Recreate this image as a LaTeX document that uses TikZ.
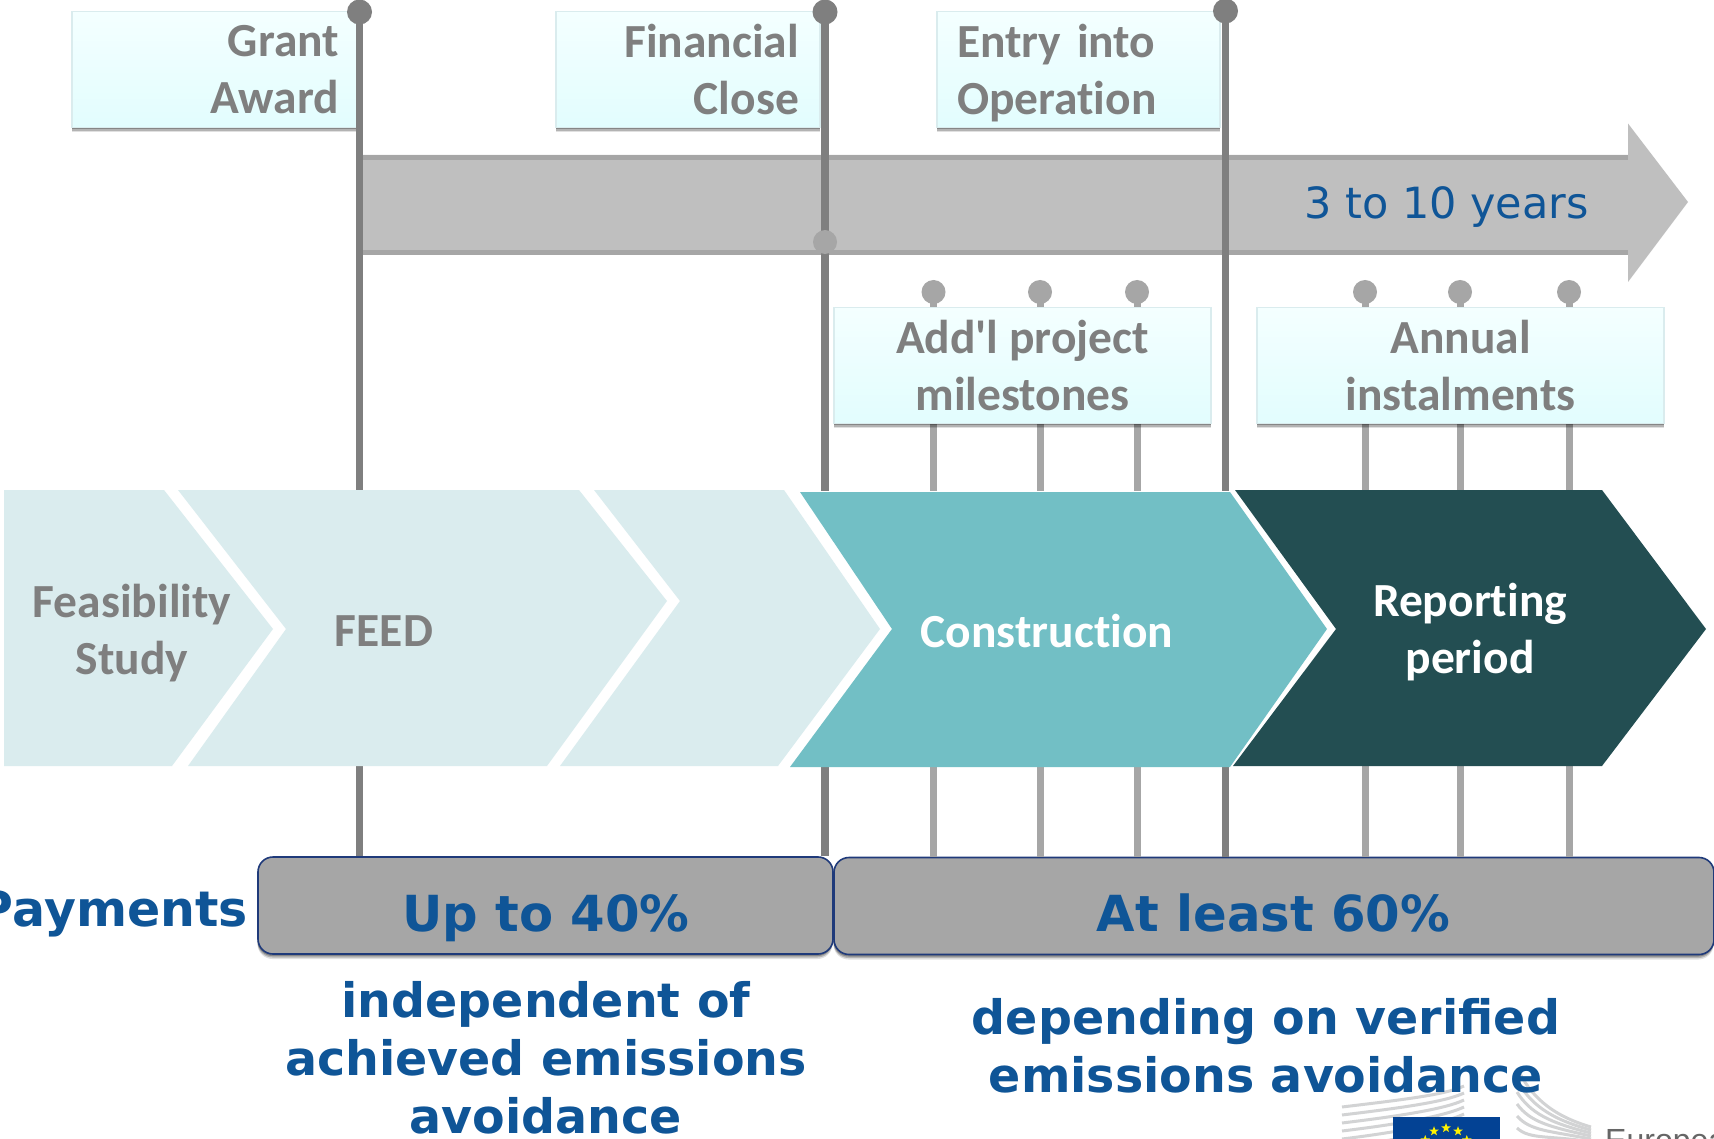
\documentclass[tikz,border=0pt]{standalone}
\usepackage{fontspec}
\newfontfamily\calfont[Ligatures=NoCommon]{Carlito}
\newfontfamily\djvfont{DejaVu Sans}
\newfontfamily\logofont{Liberation Sans}
\usetikzlibrary{shadows,shapes.geometric,calc}
\definecolor{lightchev}{HTML}{DAECEE}
\definecolor{tealchev}{HTML}{72BFC5}
\definecolor{darkchev}{HTML}{234E52}
\definecolor{maingray}{HTML}{7F7F7F}
\definecolor{minorgray}{HTML}{A6A6A6}
\definecolor{arrowgray}{HTML}{BFBFBF}
\definecolor{bluetxt}{HTML}{0F5597}
\definecolor{navy}{HTML}{1F3A7A}
\definecolor{eublue}{HTML}{034294}
\definecolor{logogray}{HTML}{D2D3D4}
\definecolor{flagtop}{HTML}{F4FFFF}
\definecolor{flagbot}{HTML}{E2FDFE}
\tikzset{
  x=1pt,y=-1pt,
  mainline/.style={draw=maingray,line width=7.5pt},
  minorline/.style={draw=minorgray,line width=7pt},
  maindot/.style={circle,fill=maingray,draw=none,minimum size=25pt,inner sep=0pt},
  minordot/.style={circle,fill=minorgray,draw=none,minimum size=24pt,inner sep=0pt},
  lab/.style={font=\calfont\bfseries\fontsize{47.5}{57}\selectfont,text=maingray,align=center,inner sep=0pt},
  wlab/.style={lab,text=white},
  softshadow/.style={
     general shadow={shadow xshift=-.5pt,shadow yshift=-5pt,opacity=.12,fill=black},
     general shadow={shadow xshift=-.5pt,shadow yshift=-3.5pt,opacity=.2,fill=black},
     general shadow={shadow xshift=-.5pt,shadow yshift=-2pt,opacity=.25,fill=black}},
  flag/.style={lab,softshadow,draw=lightchev,line width=1.5pt,top color=flagtop,bottom color=flagbot,minimum height=116pt},
  paybox/.style={softshadow,draw=navy,line width=1.6pt,fill=minorgray,rounded corners=15pt,minimum height=97pt,inner sep=0pt},
  bluet/.style={font=\djvfont\bfseries\fontsize{47.5}{58}\selectfont,text=bluetxt,align=center,inner sep=0pt},
  bigblue/.style={font=\djvfont\bfseries\fontsize{49.7}{58}\selectfont,text=bluetxt,inner sep=0pt},
  logoline/.style={draw=logogray,line width=3pt},
}
\begin{document}
\begin{tikzpicture}
\useasboundingbox (0,0) rectangle (1714,1139);
\clip (0,0) rectangle (1714,1139);
\fill[white] (0,0) rectangle (1714,1139);
% logo
\foreach \k in {0,...,5}{
  \draw[logoline] (1342,1107+\k*8) .. controls (1400,1100+\k*8) and (1445,1095+\k*7) .. (1464,1086+\k*7);
  \draw[logoline] (1517,1068+\k*12) .. controls (1530,1095+\k*9) and (1550,1115+\k*4) .. (1591,1127+\k*3);
}
\fill[eublue] (1393,1117) rectangle (1500,1139);
\foreach \a in {0,30,...,330}{
  \node[star,star points=5,star point ratio=2.4,fill=yellow,draw=none,minimum size=10pt,inner sep=0pt]
     (star\a) at ($(1446,1152)+(\a:24pt)$) {};
}
\node[font=\logofont\fontsize{32}{38}\selectfont,text=black!60,anchor=base west,inner sep=0pt] (europe) at (1605,1151) {European};
% timeline arrow
\fill[arrowgray] (363,155) -- (1628,155) -- (1628,123.5) -- (1688,202) -- (1628,282) -- (1628,255) -- (363,255) -- cycle;
\fill[minorgray] (363,155) rectangle (1628,160);
\fill[minorgray] (363,250) rectangle (1628,255);
\node[font=\djvfont\fontsize{43}{50}\selectfont,text=bluetxt,anchor=base west,inner sep=0pt] (years) at (1304,219) {3 to 10 years};
% payment boxes
\node[paybox,minimum width=575pt] (pay1) at (545.5,905.5) {};
\node[paybox,minimum width=880pt] (pay2) at (1274,906) {};
% top flags
\node[flag,minimum width=286pt,text width=248pt,align=right] (grant) at (215,69.5) {Grant\\Award};
\node[flag,minimum width=264pt,text width=222pt,align=right] (fin) at (688,69.5) {Financial\\Close};
\node[flag,minimum width=283pt,text width=243pt,align=left] (entry) at (1078.5,69.5) {\rule{0pt}{40pt}Entry into\\Operation};
% dots
\node[maindot] (dGrant) at (359.5,12) {};
\node[maindot] (dFin) at (825,12) {};
\node[maindot] (dEntry) at (1225.5,11) {};
\foreach \n/\x in {m1/933.5,m2/1040,m3/1137,a1/1365,a2/1460,a3/1569}{
  \coordinate (c\n) at (\x,292);
}
% main lines
\draw[mainline] (dGrant.center) -- (dGrant.center |- pay1.north);
\draw[mainline] (dFin.center) -- (dFin.center |- pay1.north);
\draw[mainline] (dEntry.center) -- (dEntry.center |- pay2.north);
\node[minordot] (dFinLow) at (825,242) {};
% minor lines
\foreach \n in {m1,m2,m3,a1,a2,a3}{
  \draw[minorline] (c\n) -- (c\n |- pay2.north);
  \node[minordot] (d\n) at (c\n) {};
}
% lower flags
\node[flag,minimum width=377pt] (mile) at (1022.5,365.5) {Add'l project\\milestones};
\node[flag,minimum width=407pt] (inst) at (1460.5,365.5) {Annual\\instalments};
% chevrons
\fill[white] (0,491) rectangle (1714,766);
\fill[lightchev] (4,490) -- (164,490) -- (273,629) -- (172,766) -- (4,766) -- cycle;
\fill[lightchev] (178,490) -- (579,490) -- (667,601) -- (547,766) -- (188,766) -- (286,629) -- cycle;
\fill[lightchev] (594,490) -- (784,490) -- (880,629) -- (778,766) -- (560,766) -- (680,601) -- cycle;
\fill[tealchev] (800,492) -- (1230,492) -- (1327,629) -- (1230,767) -- (790,767) -- (892,629) -- cycle;
\fill[darkchev] (1235,490) -- (1602,490) -- (1706,629) -- (1602,766) -- (1233,766) -- (1336,629) -- cycle;
\node[lab] (feas) at (132,633) {Feasibility\\Study};
\node[lab] (feed) at (384,631) {FEED};
\node[wlab] (cons) at (1047,631) {Construction};
\node[wlab] (rep) at (1470,632.5) {Reporting\\period};
% payment text
\node[bigblue,anchor=base] (t40) at (546,931) {Up to 40\%};
\node[bigblue,anchor=base] (t60) at (1273.5,931) {At least 60\%};
\node[bigblue,anchor=base east,font=\djvfont\bfseries\fontsize{49}{58}\selectfont] (tpay) at (248,926) {Payments};
\node[bluet,anchor=base] (ind) at (546,1133) {independent of\\achieved emissions\\avoidance};
\node[bluet,anchor=base] (dep) at (1266,1092) {depending on verified\\emissions avoidance};
\end{tikzpicture}
\end{document}
